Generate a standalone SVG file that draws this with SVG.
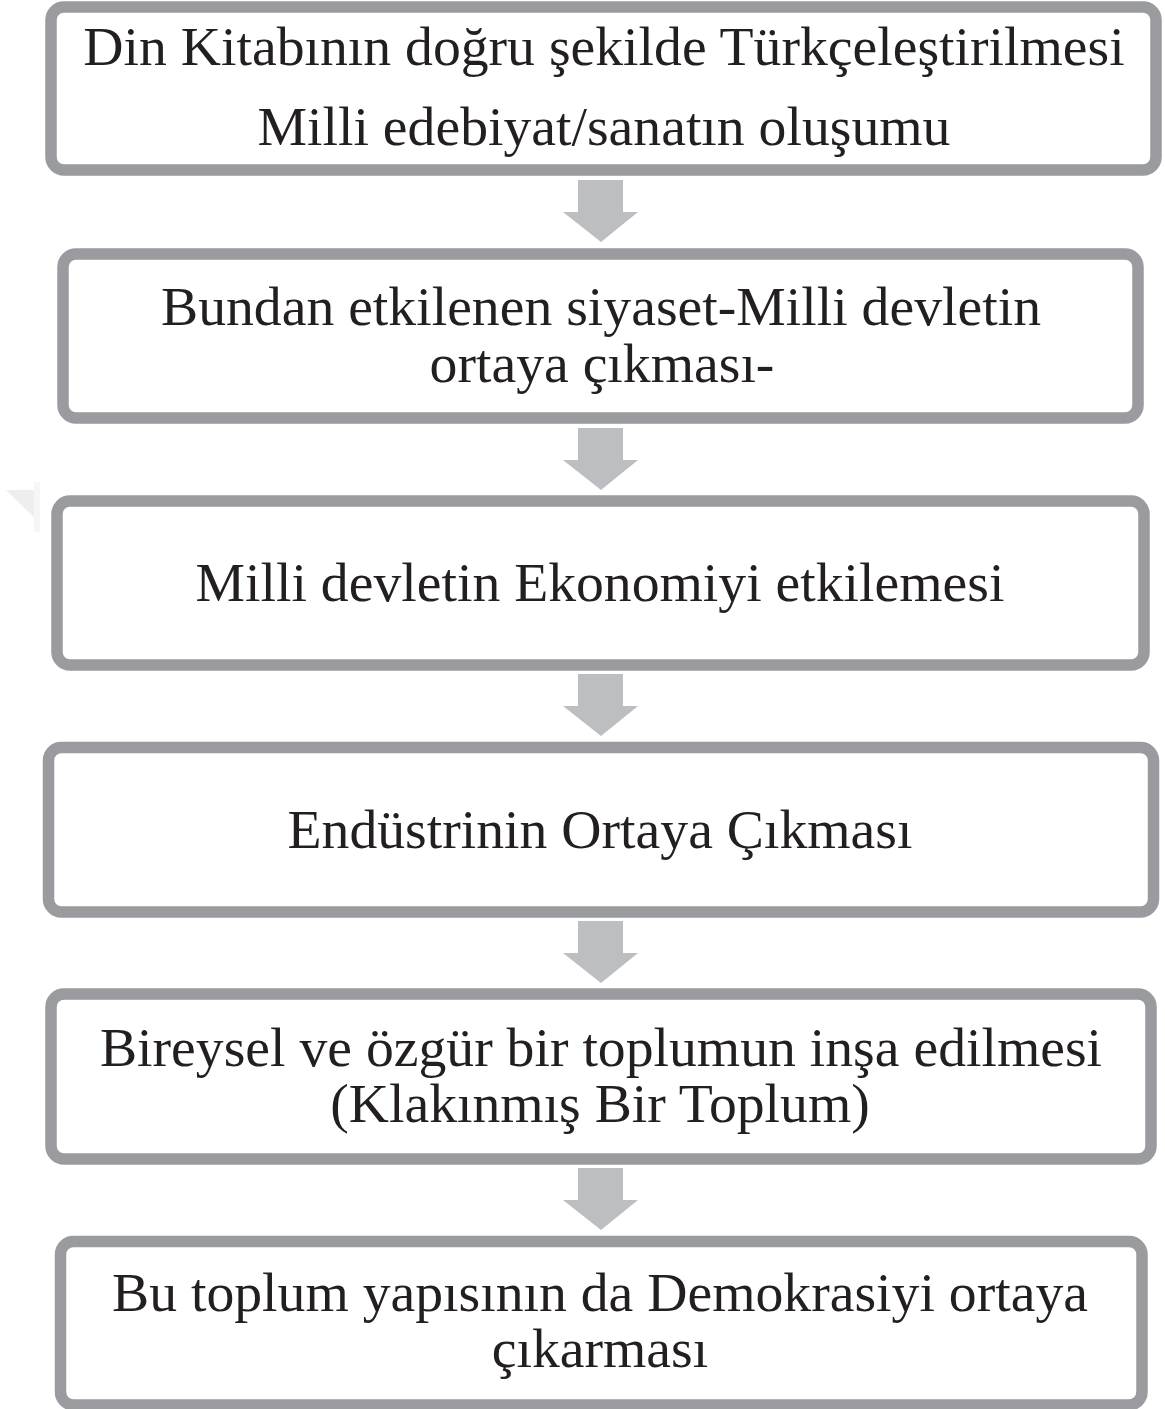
<svg xmlns="http://www.w3.org/2000/svg" width="1165" height="1409" viewBox="0 0 1165 1409">
<defs>
<style>
.box{fill:#ffffff;stroke:#9a9b9f;stroke-width:11.5}
.t{font-family:"Liberation Serif","Times New Roman",serif;font-size:55.7px;fill:#231f20;text-anchor:middle}
.arr{fill:#bdbec1}
</style>
<path id="arrow" class="arr" d="M578,0 H623 V32 H638 L601,62 L563,32 H578 Z"/>
</defs>
<rect width="1165" height="1409" fill="#ffffff"/>
<g id="watermark">
<polygon points="6,490 40,490 40,523" fill="#eeeeee"/>
<rect x="34" y="482" width="6" height="50" fill="#f6f6f6"/>
</g>
<g id="connectors">
<use href="#arrow" y="180"/>
<use href="#arrow" y="428"/>
<use href="#arrow" y="674"/>
<use href="#arrow" y="921"/>
<use href="#arrow" y="1168"/>
</g>
<g id="node1">
<rect class="box" x="51" y="7" width="1105" height="163" rx="13"/>
<text class="t" x="604" y="65">Din Kitabının doğru şekilde Türkçeleştirilmesi</text>
<text class="t" x="604" y="145">Milli edebiyat/sanatın oluşumu</text>
</g>
<g id="node2">
<rect class="box" x="63" y="254" width="1075" height="164" rx="13"/>
<text class="t" x="601" y="325">Bundan etkilenen siyaset-Milli devletin</text>
<text class="t" x="602" y="382">ortaya çıkması-</text>
</g>
<g id="node3">
<rect class="box" x="57" y="501" width="1087" height="164" rx="13"/>
<text class="t" x="600" y="601">Milli devletin Ekonomiyi etkilemesi</text>
</g>
<g id="node4">
<rect class="box" x="48.5" y="747.5" width="1105" height="164.5" rx="13"/>
<text class="t" x="600" y="848">Endüstrinin Ortaya Çıkması</text>
</g>
<g id="node5">
<rect class="box" x="51" y="994" width="1100" height="165" rx="13"/>
<text class="t" x="601" y="1066">Bireysel ve özgür bir toplumun inşa edilmesi</text>
<text class="t" x="600" y="1122">(Klakınmış Bir Toplum)</text>
</g>
<g id="node6">
<rect class="box" x="60.5" y="1241.5" width="1081.5" height="163.5" rx="13"/>
<text class="t" x="600" y="1311">Bu toplum yapısının da Demokrasiyi ortaya</text>
<text class="t" x="600" y="1367">çıkarması</text>
</g>
</svg>
